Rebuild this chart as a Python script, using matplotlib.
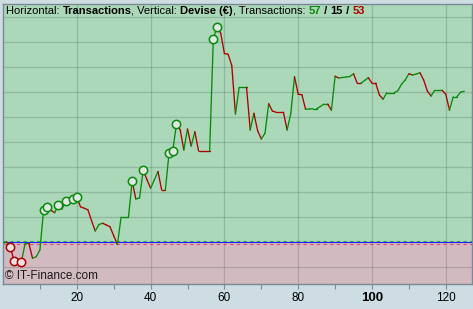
import matplotlib
matplotlib.use("Agg")
import matplotlib.pyplot as plt
from matplotlib.offsetbox import TextArea, HPacker, AnchoredOffsetbox

plt.rcParams["font.family"] = ["Liberation Sans", "DejaVu Sans"]

# ---- data (cumulative result per transaction) ----
transactions = list(range(0, 126))
equity = [
    0.00, 0.00, -0.21, -0.76, -0.76, -0.78, -0.05, -0.05, -0.65, -0.59,
    -0.32, 1.27, 1.40, 1.27, 1.17, 1.48, 1.32, 1.64, 1.55, 1.73,
    1.79, 1.41, 1.35, 1.29, 0.85, 0.44, 0.70, 0.75, 0.68, 0.61,
    0.25, -0.10, 0.99, 0.99, 0.99, 2.43, 1.72, 1.76, 2.88, 2.50,
    2.15, 2.48, 2.82, 2.08, 2.08, 3.56, 3.64, 4.72, 4.50, 3.68,
    4.52, 3.84, 4.41, 3.64, 3.64, 3.64, 3.64, 8.12, 8.61, 8.35,
    7.54, 7.51, 7.06, 5.12, 6.19, 6.19, 6.19, 4.48, 5.15, 4.45,
    4.12, 4.35, 5.53, 5.24, 5.19, 5.19, 5.19, 4.48, 5.15, 6.61,
    5.91, 5.89, 5.31, 5.32, 5.33, 5.33, 5.42, 5.52, 5.52, 5.27,
    6.63, 6.56, 6.58, 6.60, 6.62, 6.73, 6.35, 6.35, 6.46, 6.57,
    6.35, 6.35, 5.88, 5.71, 5.97, 5.97, 5.97, 6.05, 6.31, 6.48,
    6.73, 6.68, 6.72, 6.77, 6.48, 6.04, 5.84, 6.07, 6.07, 6.07,
    5.91, 5.27, 5.81, 5.81, 5.99, 6.03,
]
x_ticks = [20, 40, 60, 80, 100, 120]
x_tick_labels = ["20", "40", "60", "80", "100", "120"]
n_win, n_flat, n_loss = 57, 15, 53

GREEN = "#0a8a0a"
RED = "#b00000"

W, H = 473, 309
fig = plt.figure(figsize=(W / 100, H / 100), dpi=100)
fig.patch.set_facecolor("#cddde3")

left, right, top, bottom = 3, 472, 4, 284
ax = fig.add_axes([left / W, (H - bottom) / H, (right - left) / W, (bottom - top) / H])
ax.set_xlim(0, 127.1)
ax.set_ylim(-1.68, 9.52)

ax.axhspan(0, 9.52, color="#aad8b9", zorder=0)
ax.axhspan(-1.68, 0, color="#d1bbc1", zorder=0)

# grid
for gy in range(-1, 10):
    if gy != 0:
        ax.axhline(gy, color="black", alpha=0.14, lw=0.9, zorder=1)
for gx in x_ticks:
    ax.axvline(gx, color="black", alpha=0.14, lw=0.9, zorder=1)

# baseline
ax.axhline(0.06, color="#30b050", lw=0.8, ls=(0, (3, 3)), zorder=2)
ax.axhline(-0.06, color="#e05070", lw=0.8, ls=(0, (3, 3)), zorder=2)
ax.axhline(0, color="#2020ff", lw=0.8, zorder=3)

# equity segments
prev_col = GREEN
for i in range(len(transactions) - 1):
    y0, y1 = equity[i], equity[i + 1]
    if y1 > y0:
        col = GREEN
    elif y1 < y0:
        col = RED
    else:
        col = prev_col
    prev_col = col
    ax.plot(transactions[i:i + 2], equity[i:i + 2], color=col, lw=0.95,
            solid_capstyle="round", zorder=4)

# new highs / new lows markers
run_max, run_min = 0.0, 0.0
for xv, yv in zip(transactions, equity):
    if yv > run_max:
        run_max = yv
        ax.plot(xv, yv, "o", ms=6, mfc="#dfe8e2", mec=GREEN, mew=1.1, zorder=5)
    elif yv < run_min:
        run_min = yv
        ax.plot(xv, yv, "o", ms=6, mfc="#e8e0e2", mec=RED, mew=1.1, zorder=5)

# axes styling
for s in ax.spines.values():
    s.set_color("#7b8a92")
    s.set_linewidth(1.0)
ax.set_yticks([])
ax.set_xticks(x_ticks)
ax.set_xticklabels(x_tick_labels)
ax.set_xticks([10, 30, 50, 70, 90, 110], minor=True)
ax.tick_params(axis="x", which="both", direction="out", length=3.5, width=0.8,
               color="#7b8a92", pad=2)
ax.tick_params(axis="x", which="major", labelsize=8.5)
for lab in ax.get_xticklabels():
    if lab.get_text() == "100":
        lab.set_fontweight("bold")
        lab.set_fontsize(9.5)

# header
fs = 8.0
parts = [
    ("Horizontal: ", "normal", "black"),
    ("Transactions", "bold", "black"),
    (", Vertical: ", "normal", "black"),
    ("Devise (\u20ac)", "bold", "black"),
    (", Transactions: ", "normal", "black"),
    (str(n_win), "bold", GREEN),
    (" / ", "bold", "black"),
    (str(n_flat), "bold", "black"),
    (" / ", "bold", "black"),
    (str(n_loss), "bold", RED),
]
areas = [TextArea(t, textprops=dict(fontsize=fs, fontweight=w, color=c)) for t, w, c in parts]
box = HPacker(children=areas, align="baseline", pad=0, sep=0)
anch = AnchoredOffsetbox(loc="upper left", child=box, pad=0, borderpad=0, frameon=False,
                         bbox_to_anchor=(0.006, 0.993), bbox_transform=ax.transAxes)
ax.add_artist(anch)

ax.text(0.004, 0.008, "\u00a9 IT-Finance.com", transform=ax.transAxes, fontsize=8.5,
        color="#1a1a1a", ha="left", va="bottom", zorder=6)

fig.savefig("out.png", dpi=100, facecolor=fig.get_facecolor())
